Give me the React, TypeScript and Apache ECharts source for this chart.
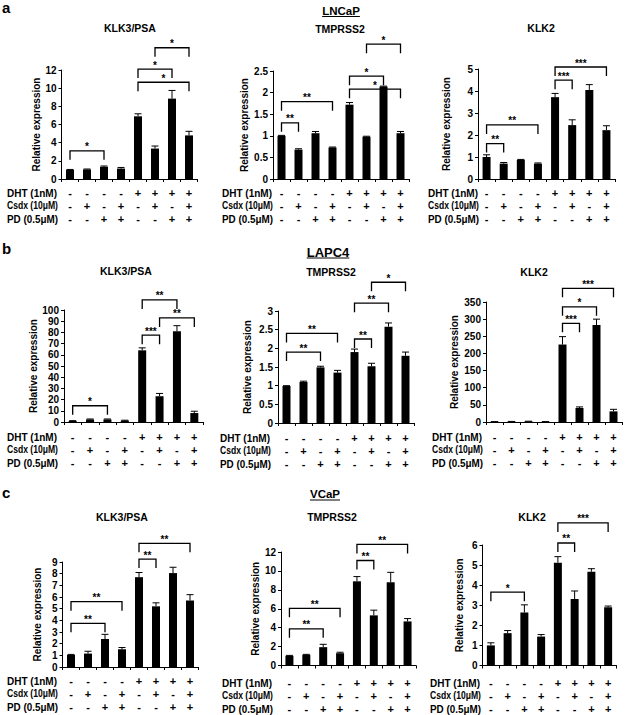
import React, { useEffect, useRef } from 'react';
import * as echarts from 'echarts';

const FONT = '"Liberation Sans", Arial, sans-serif';

// Treatment conditions (x-axis)
const DHT = ['-', '-', '-', '-', '+', '+', '+', '+'];
const CSDX = ['-', '+', '-', '+', '-', '+', '-', '+'];
const PD = ['-', '-', '+', '+', '-', '-', '+', '+'];
const ROW_LABELS = ['DHT (1nM)', 'Csdx (10μM)', 'PD (0.5μM)'];
const CELL_LINES = ['LNCaP', 'LAPC4', 'VCaP'];
const PANEL_LETTERS = ['a', 'b', 'c'];
const GENES = ['KLK3/PSA', 'TMPRSS2', 'KLK2'];
const Y_NAME = 'Relative expression';

// y-axis ranges (max, step) per panel, row by row
const Y_MAX = [12, 2.5, 5, 100, 3, 350, 9, 12, 6];
const Y_STEP = [2, 0.5, 1, 10, 0.5, 50, 1, 2, 1];

// LNCaP
const LNCAP_KLK3_MEAN = [1.0, 1.05, 1.35, 1.15, 6.9, 3.35, 8.85, 4.8];
const LNCAP_KLK3_ERR = [0.05, 0.05, 0.08, 0.12, 0.28, 0.28, 0.9, 0.45];
const LNCAP_KLK3_SIG: [number, number, number, string][] = [[0, 2, 3.1, '*'], [4, 7, 10.65, '*'], [4, 6, 12.1, '*'], [5, 7, 14.45, '*']];

const LNCAP_TMPRSS2_MEAN = [1.0, 0.68, 1.06, 0.73, 1.72, 0.98, 2.14, 1.06];
const LNCAP_TMPRSS2_ERR = [0.01, 0.02, 0.04, 0.01, 0.05, 0.01, 0.01, 0.04];
const LNCAP_TMPRSS2_SIG: [number, number, number, string][] = [[0, 1, 1.3, '**'], [0, 3, 1.79, '**'], [4, 7, 2.08, '*'], [4, 6, 2.38, '*'], [5, 7, 3.12, '*']];

const LNCAP_KLK2_MEAN = [1.0, 0.7, 0.87, 0.7, 3.72, 2.45, 4.05, 2.22];
const LNCAP_KLK2_ERR = [0.1, 0.05, 0.02, 0.03, 0.17, 0.24, 0.24, 0.2];
const LNCAP_KLK2_SIG: [number, number, number, string][] = [[0, 1, 1.61, '**'], [0, 3, 2.46, '**'], [4, 5, 4.49, '***'], [4, 7, 5.09, '***']];

// LAPC4
const LAPC4_KLK3_MEAN = [0.9, 2.3, 2.3, 1.3, 64, 23, 81, 8];
const LAPC4_KLK3_ERR = [0.3, 0.4, 0.4, 0.3, 2.2, 2.5, 5, 1.6];
const LAPC4_KLK3_SIG: [number, number, number, string][] = [[0, 2, 14.5, '*'], [4, 5, 77.5, '***'], [5, 7, 92.9, '**'], [4, 6, 109, '**']];

const LAPC4_TMPRSS2_MEAN = [0.99, 1.1, 1.49, 1.35, 1.9, 1.52, 2.58, 1.8];
const LAPC4_TMPRSS2_ERR = [0.01, 0.02, 0.03, 0.06, 0.08, 0.08, 0.1, 0.1];
const LAPC4_TMPRSS2_SIG: [number, number, number, string][] = [[0, 2, 1.9, '**'], [0, 3, 2.4, '**'], [4, 5, 2.25, '**'], [4, 6, 3.21, '**'], [5, 7, 3.77, '*']];

const LAPC4_KLK2_MEAN = [1, 1.5, 2, 1, 226, 41, 283, 31];
const LAPC4_KLK2_ERR = [0.2, 0.2, 0.3, 0.2, 23, 3, 17, 6];
const LAPC4_KLK2_SIG: [number, number, number, string][] = [[4, 5, 287.7, '***'], [4, 6, 336, '*'], [4, 7, 390, '***']];

// VCaP
const VCAP_KLK3_MEAN = [1.03, 1.15, 2.4, 1.52, 7.7, 5.2, 8.05, 5.7];
const VCAP_KLK3_ERR = [0.05, 0.2, 0.4, 0.15, 0.4, 0.3, 0.5, 0.5];
const VCAP_KLK3_SIG: [number, number, number, string][] = [[0, 2, 3.74, '**'], [0, 3, 5.6, '**'], [4, 5, 9.25, '**'], [4, 7, 10.6, '**']];

const VCAP_TMPRSS2_MEAN = [1.02, 1.13, 1.94, 1.3, 8.9, 5.3, 8.8, 4.66];
const VCAP_TMPRSS2_ERR = [0.05, 0.05, 0.3, 0.1, 0.5, 0.55, 1.05, 0.3];
const VCAP_TMPRSS2_SIG: [number, number, number, string][] = [[0, 2, 3.88, '**'], [0, 3, 6.04, '**'], [4, 5, 11.1, '**'], [4, 7, 12.8, '**']];

const VCAP_KLK2_MEAN = [1.0, 1.61, 2.64, 1.44, 5.12, 3.31, 4.67, 2.9];
const VCAP_KLK2_ERR = [0.13, 0.13, 0.38, 0.1, 0.3, 0.4, 0.15, 0.06];
const VCAP_KLK2_SIG: [number, number, number, string][] = [[0, 2, 3.65, '*'], [4, 5, 6.1, '**'], [4, 7, 7.1, '***']];

const PANEL_DATA = [
  { mean: LNCAP_KLK3_MEAN, err: LNCAP_KLK3_ERR, sig: LNCAP_KLK3_SIG },
  { mean: LNCAP_TMPRSS2_MEAN, err: LNCAP_TMPRSS2_ERR, sig: LNCAP_TMPRSS2_SIG },
  { mean: LNCAP_KLK2_MEAN, err: LNCAP_KLK2_ERR, sig: LNCAP_KLK2_SIG },
  { mean: LAPC4_KLK3_MEAN, err: LAPC4_KLK3_ERR, sig: LAPC4_KLK3_SIG },
  { mean: LAPC4_TMPRSS2_MEAN, err: LAPC4_TMPRSS2_ERR, sig: LAPC4_TMPRSS2_SIG },
  { mean: LAPC4_KLK2_MEAN, err: LAPC4_KLK2_ERR, sig: LAPC4_KLK2_SIG },
  { mean: VCAP_KLK3_MEAN, err: VCAP_KLK3_ERR, sig: VCAP_KLK3_SIG },
  { mean: VCAP_TMPRSS2_MEAN, err: VCAP_TMPRSS2_ERR, sig: VCAP_TMPRSS2_SIG },
  { mean: VCAP_KLK2_MEAN, err: VCAP_KLK2_ERR, sig: VCAP_KLK2_SIG },
];

// Layout (pixels)
const LAYOUT = [
  { left: 61.5, top: 70, width: 136, height: 109, nameGap: 19, labelX: 7, titleX: 130, titleY: 28, margin: 7.5 },
  { left: 273, top: 71, width: 136, height: 108, nameGap: 24, labelX: 222, titleX: 340, titleY: 29, margin: 7.5 },
  { left: 478, top: 69, width: 137, height: 110, nameGap: 27, labelX: 428, titleX: 541, titleY: 28, margin: 7.5 },
  { left: 64, top: 310, width: 139, height: 112, nameGap: 21.5, labelX: 7, titleX: 126, titleY: 271, margin: 8.5 },
  { left: 278, top: 311, width: 136, height: 112, nameGap: 25.5, labelX: 220, titleX: 331, titleY: 272, margin: 8.5 },
  { left: 486, top: 302, width: 136, height: 120, nameGap: 27, labelX: 432, titleX: 534, titleY: 272, margin: 8.5 },
  { left: 62.5, top: 562, width: 136, height: 105, nameGap: 20, labelX: 7, titleX: 122, titleY: 517, margin: 7.5 },
  { left: 281, top: 552, width: 135, height: 114, nameGap: 21, labelX: 222, titleX: 332, titleY: 517, margin: 10.5 },
  { left: 482.5, top: 545, width: 134, height: 121, nameGap: 18.5, labelX: 430, titleX: 532, titleY: 517, margin: 10.5 },
];
const ROW_LABEL_WIDTH = 51;
const CELL_LAYOUT = [
  { x: 341, y: 11, ul: 16.5, size: 11.5 },
  { x: 328, y: 252.5, ul: 258, size: 13 },
  { x: 325, y: 494, ul: 500, size: 11.5 },
];
const LETTER_LAYOUT = [
  { x: 2, y: 7 },
  { x: 2, y: 248 },
  { x: 2, y: 492 },
];

const CATEGORIES = DHT.map((d, i) => `${d}\n${CSDX[i]}\n${PD[i]}`);

function errRender(mean: number[], err: number[]) {
  return (params: any, api: any) => {
    const i = params.dataIndex;
    const b = api.coord([i, mean[i]]);
    const t = api.coord([i, mean[i] + err[i]]);
    return {
      type: 'group',
      children: [
        { type: 'line', shape: { x1: b[0], y1: b[1], x2: t[0], y2: t[1] }, style: { stroke: '#000', lineWidth: 1 } },
        { type: 'line', shape: { x1: t[0] - 3.5, y1: t[1], x2: t[0] + 3.5, y2: t[1] }, style: { stroke: '#000', lineWidth: 1 } },
      ],
    };
  };
}

function bracketRender(sig: [number, number, number, string][]) {
  return (params: any, api: any) => {
    const s = sig[params.dataIndex];
    const p1 = api.coord([s[0], s[2]]);
    const p2 = api.coord([s[1], s[2]]);
    const drop = 9;
    return {
      type: 'group',
      children: [
        {
          type: 'polyline',
          shape: { points: [[p1[0], p1[1] + drop], [p1[0], p1[1]], [p2[0], p2[1]], [p2[0], p2[1] + drop]] },
          style: { stroke: '#000', lineWidth: 1.3, fill: 'none' },
        },
        {
          type: 'text',
          x: (p1[0] + p2[0]) / 2,
          y: p1[1] + 1,
          style: {
            text: s[3],
            align: 'center',
            verticalAlign: 'bottom',
            font: `bold 10px ${FONT}`,
            fill: '#000',
          },
        },
      ],
    };
  };
}

function measure(text: string, font: string) {
  const c = document.createElement('canvas');
  const ctx = c.getContext('2d');
  if (!ctx) return text.length * 6;
  ctx.font = font;
  return ctx.measureText(text).width;
}

export default function App() {
  const ref = useRef<HTMLDivElement>(null);
  useEffect(() => {
    if (!ref.current) return;
    const chart = echarts.init(ref.current, null, { renderer: 'svg' });

    const axisText = { color: '#000', fontWeight: 'bold' as const, fontFamily: FONT };

    const grid = LAYOUT.map((l) => ({ left: l.left, top: l.top, width: l.width, height: l.height }));
    const xAxis = LAYOUT.map((l, i) => ({
      type: 'category',
      gridIndex: i,
      data: CATEGORIES,
      axisLine: { show: true, lineStyle: { color: '#000', width: 1 } },
      axisTick: { show: true, length: 3, lineStyle: { color: '#000' } },
      axisLabel: { ...axisText, interval: 0, margin: l.margin, lineHeight: 13, fontSize: 11 },
    }));
    const yAxis = LAYOUT.map((l, i) => ({
      type: 'value',
      gridIndex: i,
      min: 0,
      max: Y_MAX[i],
      interval: Y_STEP[i],
      name: Y_NAME,
      nameLocation: 'middle',
      nameGap: l.nameGap,
      nameTextStyle: { ...axisText, fontSize: 10 },
      axisLine: { show: true, lineStyle: { color: '#000', width: 1 } },
      axisTick: { show: true, length: 3, lineStyle: { color: '#000' } },
      splitLine: { show: false },
      axisLabel: { ...axisText, fontSize: 10, margin: 5 },
    }));

    const series: any[] = [];
    PANEL_DATA.forEach((p, i) => {
      series.push({
        type: 'bar',
        xAxisIndex: i,
        yAxisIndex: i,
        data: p.mean,
        barWidth: 8,
        itemStyle: { color: '#000' },
      });
      series.push({
        type: 'custom',
        xAxisIndex: i,
        yAxisIndex: i,
        data: p.mean.map((m, j) => [j, m + p.err[j]]),
        encode: { x: 0, y: 1 },
        renderItem: errRender(p.mean, p.err),
        itemStyle: { color: '#000' },
        clip: false,
        z: 3,
      });
      series.push({
        type: 'custom',
        xAxisIndex: i,
        yAxisIndex: i,
        data: p.sig.map((s) => [s[0], s[2]]),
        encode: { x: 0, y: 1 },
        renderItem: bracketRender(p.sig),
        itemStyle: { color: '#000' },
        clip: false,
        z: 3,
      });
    });

    const graphic: any[] = [];
    PANEL_LETTERS.forEach((t, r) => {
      graphic.push({
        type: 'text',
        x: LETTER_LAYOUT[r].x,
        y: LETTER_LAYOUT[r].y,
        style: { text: t, font: `bold 15px ${FONT}`, fill: '#000', align: 'left', verticalAlign: 'middle' },
      });
    });
    CELL_LINES.forEach((t, r) => {
      const c = CELL_LAYOUT[r];
      const font = `bold ${c.size}px ${FONT}`;
      const w = measure(t, font);
      graphic.push({
        type: 'text',
        x: c.x,
        y: c.y,
        style: { text: t, font, fill: '#000', align: 'center', verticalAlign: 'middle' },
      });
      graphic.push({
        type: 'line',
        shape: { x1: c.x - w / 2, y1: c.ul, x2: c.x + w / 2, y2: c.ul },
        style: { stroke: '#000', lineWidth: 1 },
      });
    });
    const rowFont = `bold 10px ${FONT}`;
    const rowScale = ROW_LABELS.map((t) => Math.min(1, ROW_LABEL_WIDTH / measure(t, rowFont)));
    LAYOUT.forEach((l, i) => {
      graphic.push({
        type: 'text',
        x: l.titleX,
        y: l.titleY,
        style: { text: GENES[i % 3], font: `bold 10.5px ${FONT}`, fill: '#000', align: 'center', verticalAlign: 'middle' },
      });
      const bottom = l.top + l.height;
      ROW_LABELS.forEach((t, k) => {
        graphic.push({
          type: 'text',
          x: l.labelX,
          y: bottom + l.margin + 6.5 + 13 * k,
          scaleX: rowScale[k],
          style: { text: t, font: rowFont, fill: '#000', align: 'left', verticalAlign: 'middle' },
        });
      });
    });

    chart.setOption({
      animation: false,
      backgroundColor: '#fff',
      color: ['#000'],
      grid,
      xAxis,
      yAxis,
      series,
      graphic,
    });
    return () => chart.dispose();
  }, []);
  return <div ref={ref} style={{ position: 'fixed', left: 0, top: 0, width: 627, height: 715, background: '#fff' }} />;
}
